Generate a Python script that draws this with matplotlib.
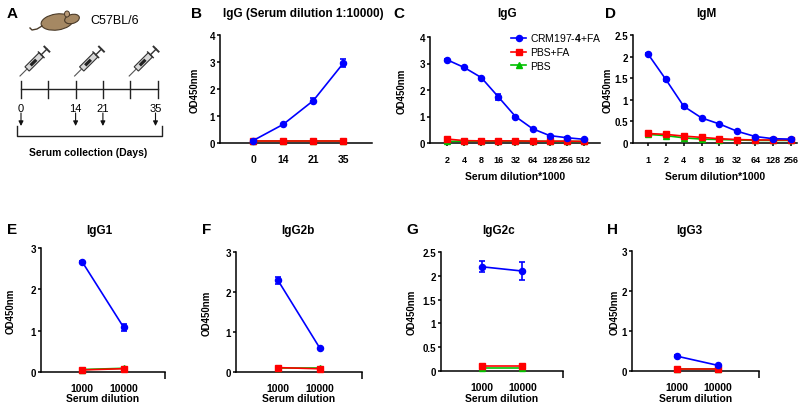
import numpy as np
import matplotlib
matplotlib.use('Agg')
import matplotlib.pyplot as plt
from matplotlib.patches import Ellipse, Polygon

plt.rcParams['font.family'] = ['Liberation Sans', 'DejaVu Sans']
plt.rcParams['font.weight'] = 'bold'
plt.rcParams['axes.labelweight'] = 'bold'
plt.rcParams['mathtext.fontset'] = 'custom'
plt.rcParams['mathtext.rm'] = 'Liberation Sans'
plt.rcParams['mathtext.bf'] = 'Liberation Sans:bold'

BLUE = '#0000ff'
RED = '#ff0000'
GREEN = '#00c000'

# ---- data ----
# B: IgG at 1:10000 over time
days = [0, 14, 21, 35]
b_crm = [0.09, 0.69, 1.57, 2.96]
b_crm_err = [0.02, 0.03, 0.08, 0.15]
b_pbsfa = [0.08, 0.08, 0.08, 0.08]
b_pbs = [0.07, 0.07, 0.07, 0.07]

# C: IgG dilution series
c_dil = [2, 4, 8, 16, 32, 64, 128, 256, 512]
c_crm = [3.14, 2.85, 2.47, 1.74, 1.0, 0.54, 0.28, 0.2, 0.14]
c_crm_err = [0.03, 0.03, 0.03, 0.11, 0.03, 0.02, 0.02, 0.01, 0.01]
c_pbsfa = [0.15, 0.09, 0.08, 0.08, 0.08, 0.07, 0.07, 0.07, 0.06]
c_pbs = [0.06, 0.07, 0.07, 0.07, 0.07, 0.07, 0.06, 0.06, 0.06]

# D: IgM dilution series
d_dil = [1, 2, 4, 8, 16, 32, 64, 128, 256]
d_crm = [2.06, 1.47, 0.85, 0.58, 0.44, 0.27, 0.15, 0.1, 0.09]
d_crm_err = [0.02, 0.03, 0.03, 0.02, 0.02, 0.01, 0.01, 0.01, 0.01]
d_pbsfa = [0.22, 0.2, 0.16, 0.13, 0.1, 0.08, 0.07, 0.07, 0.07]
d_pbs = [0.2, 0.17, 0.12, 0.09, 0.08, 0.07, 0.06, 0.06, 0.06]

# E-H: subclasses at two dilutions
sub_dil = [1000, 10000]
e_crm, e_crm_err = [2.66, 1.08], [0.03, 0.09]
e_pbsfa, e_pbs = [0.05, 0.08], [0.06, 0.09]
f_crm, f_crm_err = [2.29, 0.59], [0.08, 0.02]
f_pbsfa, f_pbs = [0.11, 0.08], [0.1, 0.1]
g_crm, g_crm_err = [2.19, 2.1], [0.115, 0.18]
g_pbsfa, g_pbs = [0.1, 0.1], [0.06, 0.06]
h_crm, h_crm_err = [0.37, 0.14], [0.02, 0.02]
h_pbsfa, h_pbs = [0.06, 0.06], [0.05, 0.05]

# schedule for panel A
timeline_days = [0, 7, 14, 21, 28, 35]
inject_days = [0, 14, 28]
collect_days = [0, 14, 21, 35]

W, H = 798, 410
fig = plt.figure(figsize=(W / 100, H / 100), dpi=100)


def add_ax(l, t, r, b):
    return fig.add_axes([l / W, 1 - b / H, (r - l) / W, (b - t) / H])


def style(ax, ylab_px, xlab_py=None, xlab=None):
    for s in ['top', 'right']:
        ax.spines[s].set_visible(False)
    for s in ['left', 'bottom']:
        ax.spines[s].set_linewidth(1.1)
    ax.tick_params(direction='out', length=2.5, width=1.1, labelsize=7, pad=1)
    pos = ax.get_position()
    l = pos.x0 * W
    w = pos.width * W
    ax.set_ylabel('OD450nm', fontsize=7)
    ax.yaxis.set_label_coords((ylab_px + 6 - l) / w, 0.5)
    if xlab:
        ax.set_xlabel(xlab, fontsize=7.5)
        b = (1 - pos.y0) * H
        hgt = pos.height * H
        ax.xaxis.set_label_coords(0.5, (b - xlab_py) / hgt)


def draw(ax, x, crm, err, pbsfa, pbs):
    l1, = ax.plot(x, pbs, color=GREEN, marker='^', ms=4, lw=1.2, clip_on=False, zorder=3)
    l2, = ax.plot(x, pbsfa, color=RED, marker='s', ms=4.2, lw=1.2, clip_on=False, zorder=4)
    eb = ax.errorbar(x, crm, yerr=err, color=BLUE, marker='o', ms=4.4, lw=1.2,
                     capsize=2, elinewidth=1.2, capthick=1.2, clip_on=False, zorder=5)
    return eb.lines[0], l2, l1


# ---- panel A (schematic) ----
ov = fig.add_axes([0, 0, 1, 1])
ov.set_xlim(0, W)
ov.set_ylim(H, 0)
ov.axis('off')
ov.set_zorder(-1)


def day_x(d):
    return 21 + d * 3.9


# mouse
ov.add_patch(Ellipse((57, 23), 32, 16, angle=-8, fc='#a58863', ec='#4a3a28', lw=0.8))
ov.add_patch(Ellipse((72, 20), 15, 9, angle=-15, fc='#a58863', ec='#4a3a28', lw=0.8))
ov.add_patch(Ellipse((67, 15), 5, 6, fc='#b89a78', ec='#4a3a28', lw=0.7))
ov.plot([42, 37, 32, 30], [27, 30, 31, 29], color='#4a3a28', lw=1)
ov.text(90, 21, 'C57BL/6', fontsize=9, fontweight='normal', va='center')

# syringes
for d in inject_days:
    tip = np.array([day_x(d) - 1, 77])
    u = np.array([29, -29]) / np.hypot(29, 29)
    n = np.array([u[1], -u[0]])
    a, b = tip + u * 10, tip + u * 30
    barrel = [a + n * 3, b + n * 3, b - n * 3, a - n * 3]
    ov.add_patch(Polygon(barrel, closed=True, fc='#d8d8d8', ec='#333333', lw=0.8))
    m1, m2 = tip + u * 15, tip + u * 23
    ov.add_patch(Polygon([m1 + n * 1.6, m2 + n * 1.6, m2 - n * 1.6, m1 - n * 1.6],
                         closed=True, fc='#222222', ec='none'))
    ov.plot(*zip(tip, a), color='#555555', lw=0.8)
    c = tip + u * 38
    ov.plot(*zip(b, c), color='#333333', lw=1)
    ov.plot(*zip(c + n * 3.5, c - n * 3.5), color='#333333', lw=1.4)
    ov.plot(*zip(b + n * 4, b - n * 4), color='#333333', lw=1)

# timeline
ov.plot([day_x(0), day_x(35)], [90, 90], color='#222222', lw=1)
for d in timeline_days:
    ov.plot([day_x(d), day_x(d)], [82, 99], color='#222222', lw=1)
for d in collect_days:
    x = day_x(d) - (2 if d == 35 else 0)
    ov.text(x, 109, str(d), fontsize=8, fontweight='normal', ha='center', va='center')
    ov.annotate('', xy=(x, 127), xytext=(x, 114),
                arrowprops=dict(arrowstyle='-|>', color='#111111', lw=0.8,
                                mutation_scale=7, shrinkA=0, shrinkB=0))
ov.plot([17, 17, 162, 162], [127, 137, 137, 127], color='#222222', lw=1)
ov.text(88, 153, 'Serum collection (Days)', fontsize=7.5, ha='center', va='center')

# panel letters and titles
for lab, x, y in [('A', 12, 14), ('B', 197, 14), ('C', 399, 14), ('D', 611, 14),
                  ('E', 12, 230), ('F', 207, 230), ('G', 412, 230), ('H', 612, 230)]:
    ov.text(x, y, lab, fontsize=11, ha='center', va='center')
for t, x, y in [('IgG (Serum dilution 1:10000)', 303, 14), ('IgG', 507, 14), ('IgM', 706, 14),
                ('IgG1', 99, 231), ('IgG2b', 298, 231), ('IgG2c', 499, 231), ('IgG3', 689, 231)]:
    ov.text(x, y, t, fontsize=8.5, ha='center', va='center')

# ---- panel B ----
axB = add_ax(220, 36, 372, 144)
xb = np.arange(len(days))
draw(axB, xb, b_crm, b_crm_err, b_pbsfa, b_pbs)
axB.set_xlim(-1.1, 3.95)
axB.set_ylim(0, 4)
axB.set_yticks([0, 1, 2, 3, 4])
axB.set_xticks(xb)
axB.set_xticklabels([str(d) for d in days])
style(axB, 194)
axB.tick_params(axis='x', length=0, pad=8, labelsize=7.5)

# ---- panel C ----
axC = add_ax(430, 38, 600, 144)
handles = draw(axC, c_dil, c_crm, c_crm_err, c_pbsfa, c_pbs)
axC.set_xscale('log', base=2)
axC.set_xlim(2 ** 0.0, 2 ** 9.95)
axC.set_xticks(c_dil)
axC.set_xticklabels([str(v) for v in c_dil])
axC.minorticks_off()
axC.set_ylim(0, 4)
axC.set_yticks([0, 1, 2, 3, 4])
style(axC, 401, 172, 'Serum dilution*1000')
axC.tick_params(axis='x', pad=6, labelsize=6.5)
fig.legend(handles, ['CRM197-$\\mathbf{4}$+FA', 'PBS+FA', 'PBS'],
           loc='upper left', bbox_to_anchor=(506 / W, 1 - 27 / H), frameon=False,
           prop={'size': 7.5, 'weight': 'normal'}, handlelength=1.4, handletextpad=0.45,
           borderpad=0, labelspacing=0.38)

# ---- panel D ----
axD = add_ax(633, 36, 797, 144)
draw(axD, d_dil, d_crm, d_crm_err, d_pbsfa, d_pbs)
axD.set_xscale('log', base=2)
axD.set_xlim(2 ** -0.84, 2 ** 8.34)
axD.set_xticks(d_dil)
axD.set_xticklabels([str(v) for v in d_dil])
axD.minorticks_off()
axD.set_ylim(0, 2.5)
axD.set_yticks([0, 0.5, 1, 1.5, 2, 2.5])
axD.set_yticklabels(['0', '0.5', '1', '1.5', '2', '2.5'])
style(axD, 607, 172, 'Serum dilution*1000')
axD.tick_params(axis='x', pad=6, labelsize=6.5)

# ---- panels E-H ----
sub_panels = [
    ((41, 249, 165, 373), 2.0, e_crm, e_crm_err, e_pbsfa, e_pbs, 3, 10),
    ((236, 253, 362, 373), 2.0, f_crm, f_crm_err, f_pbsfa, f_pbs, 3, 206),
    ((441, 253, 563, 372), 2.0, g_crm, g_crm_err, g_pbsfa, g_pbs, 2.5, 411),
    ((632, 252, 759, 372), 1.9, h_crm, h_crm_err, h_pbsfa, h_pbs, 3, 614),
]
for box, xl, crm, err, pf, pb, ymax, ylab in sub_panels:
    ax = add_ax(*box)
    draw(ax, sub_dil, crm, err, pf, pb)
    ax.set_xscale('log')
    ax.set_xlim(10 ** xl, 1e5)
    ax.set_xticks(sub_dil)
    ax.set_xticklabels([str(v) for v in sub_dil])
    ax.set_xticks([1e5], minor=True)
    ax.set_xticklabels([''], minor=True)
    ax.set_ylim(0, ymax)
    if ymax == 3:
        ax.set_yticks([0, 1, 2, 3])
    else:
        ax.set_yticks([0, 0.5, 1, 1.5, 2, 2.5])
        ax.set_yticklabels(['0', '0.5', '1', '1.5', '2', '2.5'])
    style(ax, ylab, 394, 'Serum dilution')
    ax.tick_params(axis='x', which='major', length=0, pad=8, labelsize=7.5)
    ax.tick_params(axis='x', which='minor', length=5, width=1.1)

fig.savefig('out.png', dpi=100)
